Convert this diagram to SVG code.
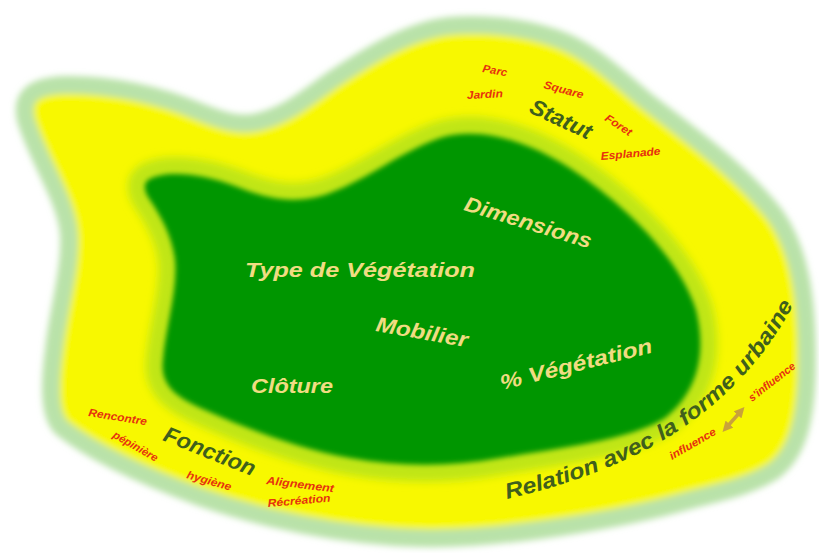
<svg xmlns="http://www.w3.org/2000/svg" xmlns:xlink="http://www.w3.org/1999/xlink" width="819" height="553" viewBox="0 0 819 553">
  <defs>
    <filter id="blurOuter" x="-10%" y="-10%" width="120%" height="120%">
      <feGaussianBlur stdDeviation="3"/>
    </filter>
    <filter id="blurBand" x="-10%" y="-10%" width="120%" height="120%">
      <feGaussianBlur stdDeviation="4"/>
    </filter>
    <filter id="blurInner" x="-10%" y="-10%" width="120%" height="120%">
      <feGaussianBlur stdDeviation="2.5"/>
    </filter>
    <path id="outerShape" d="M 26,120 C 20,95 35,86 65,85 C 110,84 160,95 200,112 C 225,122 240,126 258,122 C 290,114 310,95 335,78 C 370,55 410,30 450,26 C 480,23 520,26 555,38 C 590,50 615,75 645,100 C 690,135 740,170 775,215 C 800,250 807,300 807,360 C 807,420 797,455 772,472 C 747,487 720,492 690,500 C 620,520 500,540 420,538 C 340,536 260,518 200,497 C 140,475 90,450 62,428 C 48,415 50,380 54,350 C 58,310 71,270 69,235 C 67,200 38,160 26,120 Z"/>
    <path id="innerShape" d="M 148,180 C 165,170 200,173 235,186 C 265,198 295,206 330,193 C 370,178 400,152 440,138 C 480,126 530,140 580,175 C 630,210 680,260 696,310 C 706,350 700,390 665,418 C 630,440 560,448 500,458 C 450,467 400,467 350,458 C 300,449 250,430 205,410 C 175,397 160,385 163,360 C 165,330 178,290 175,260 C 172,235 160,215 150,200 C 144,192 143,184 148,180 Z"/>
    <path id="relPath" d="M 507,499 C 630,470 732,420 795,302"/>
    <marker id="ah" viewBox="0 0 10 10" refX="5" refY="5" markerWidth="3" markerHeight="3" orient="auto-start-reverse">
      <path d="M 0,0 L 10,5 L 0,10 Z" fill="#c9a23a"/>
    </marker>
    <style>
      .inner { font-family: "Liberation Sans", Arial, sans-serif; font-weight: bold; font-style: italic; fill: #f0dc82; font-size: 21px; }
      .title { font-family: "Liberation Sans", Arial, sans-serif; font-weight: bold; font-style: italic; fill: #3f5f1c; font-size: 22px; }
      .small { font-family: "Liberation Sans", Arial, sans-serif; font-weight: bold; font-style: italic; fill: #e6320e; font-size: 11px; }
    </style>
  </defs>

  <g id="background">
    <use xlink:href="#outerShape" fill="#f8f800" stroke="#b9e2a9" stroke-width="18" stroke-linejoin="round" filter="url(#blurOuter)"/>
    <use xlink:href="#innerShape" fill="#c0e614" stroke="#c0e614" stroke-width="34" stroke-linejoin="round" filter="url(#blurBand)"/>
    <use xlink:href="#innerShape" fill="#049604" filter="url(#blurInner)"/>
  </g>

  <g id="inner-labels">
    <g id="dimensions"><text class="inner" transform="translate(463,210) rotate(17)" textLength="132" lengthAdjust="spacingAndGlyphs">Dimensions</text></g>
    <g id="type-vegetation"><text class="inner" x="245" y="277" textLength="230" lengthAdjust="spacingAndGlyphs">Type de Végétation</text></g>
    <g id="mobilier"><text class="inner" transform="translate(375,331) rotate(10)" textLength="93" lengthAdjust="spacingAndGlyphs">Mobilier</text></g>
    <g id="cloture"><text class="inner" x="251" y="393" textLength="82" lengthAdjust="spacingAndGlyphs">Clôture</text></g>
    <g id="pct-vegetation"><text class="inner" transform="translate(502,390) rotate(-14)" textLength="156" lengthAdjust="spacingAndGlyphs">% Végétation</text></g>
  </g>

  <g id="statut">
    <text class="title" transform="translate(528,112) rotate(25)" textLength="66" lengthAdjust="spacingAndGlyphs">Statut</text>
    <text class="small" transform="translate(482,72) rotate(10)" textLength="25" lengthAdjust="spacingAndGlyphs">Parc</text>
    <text class="small" transform="translate(467,99) rotate(-3)" textLength="36" lengthAdjust="spacingAndGlyphs">Jardin</text>
    <text class="small" transform="translate(543,88) rotate(15)" textLength="41" lengthAdjust="spacingAndGlyphs">Square</text>
    <text class="small" transform="translate(604,120) rotate(33)" textLength="30" lengthAdjust="spacingAndGlyphs">Foret</text>
    <text class="small" transform="translate(601,160) rotate(-5)" textLength="60" lengthAdjust="spacingAndGlyphs">Esplanade</text>
  </g>

  <g id="fonction">
    <text class="title" transform="translate(162,440) rotate(22)" textLength="97" lengthAdjust="spacingAndGlyphs">Fonction</text>
    <text class="small" transform="translate(88,416) rotate(9)" textLength="59" lengthAdjust="spacingAndGlyphs">Rencontre</text>
    <text class="small" transform="translate(112,437) rotate(30)" textLength="50" lengthAdjust="spacingAndGlyphs">pépinière</text>
    <text class="small" transform="translate(186,478) rotate(16)" textLength="46" lengthAdjust="spacingAndGlyphs">hygiène</text>
    <text class="small" transform="translate(266,484) rotate(7)" textLength="68" lengthAdjust="spacingAndGlyphs">Alignement</text>
    <text class="small" transform="translate(268,507) rotate(-5)" textLength="63" lengthAdjust="spacingAndGlyphs">Récréation</text>
  </g>

  <g id="relation">
    <text class="title" font-size="21"><textPath xlink:href="#relPath" textLength="358" lengthAdjust="spacingAndGlyphs">Relation avec la forme urbaine</textPath></text>
    <text class="small" font-size="10" transform="translate(672,460) rotate(-30)" textLength="52" lengthAdjust="spacingAndGlyphs">influence</text>
    <text class="small" font-size="10" transform="translate(752,402) rotate(-38)" textLength="56" lengthAdjust="spacingAndGlyphs">s'influence</text>
  </g>

  <g id="connectors">
    <line x1="726" y1="428" x2="741" y2="411" stroke="#c9a23a" stroke-width="3.5" marker-start="url(#ah)" marker-end="url(#ah)"/>
  </g>
</svg>
